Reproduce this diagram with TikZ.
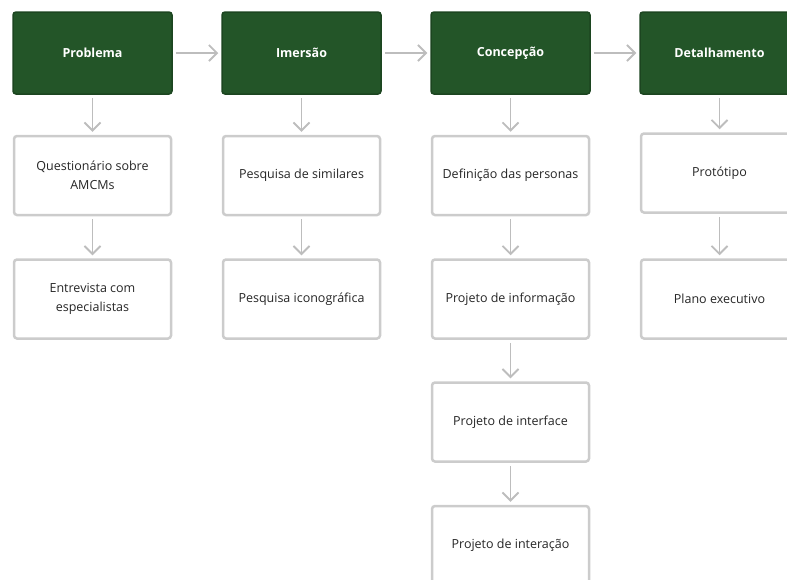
\documentclass[tikz,border=0pt]{standalone}
\usepackage{fontspec}
\setmainfont{Open Sans}
\usetikzlibrary{arrows.meta}
\definecolor{hdrfill}{HTML}{235528}
\definecolor{hdrline}{HTML}{1C4520}
\definecolor{boxline}{HTML}{CCCCCC}
\definecolor{arrowc}{HTML}{BDBDBD}
\definecolor{txtc}{HTML}{262626}
\tikzset{
  header/.style={draw=hdrline, fill=hdrfill, line width=1.5pt, rounded corners=3pt,
    minimum width=159pt, minimum height=82pt, inner sep=0pt, text=white,
    font=\fontsize{12.5}{15}\selectfont\bfseries, align=center},
  stepbox/.style={draw=boxline, fill=white, line width=2.5pt, rounded corners=3pt,
    minimum width=157pt, minimum height=79pt, inner sep=0pt, text=txtc,
    font=\fontsize{12.5}{19}\selectfont, align=center},
  conn/.style={draw=arrowc, line width=1.8pt, shorten <=3pt, shorten >=3pt,
    -{Straight Barb[length=8pt,width=16pt,line width=1.8pt]}}
}
\begin{document}
\begin{tikzpicture}[x=1pt,y=-1pt]
\useasboundingbox (0,0) rectangle (787,579);
% headers
\node[header] (h1) at (92.5,53) {Problema};
\node[header] (h2) at (301.5,53) {Imersão};
\node[header] (h3) at (510.5,53) {Concepção};
\node[header] (h4) at (719.5,53) {Detalhamento};
% column 1
\node[stepbox] (a1) at (92.5,175.5) {Questionário sobre\\AMCMs};
\node[stepbox] (a2) at (92.5,299) {Entrevista com\\especialistas};
% column 2
\node[stepbox] (b1) at (301.5,175.5) {Pesquisa de similares};
\node[stepbox] (b2) at (301.5,299) {Pesquisa iconográfica};
% column 3
\node[stepbox] (c1) at (510.5,175.5) {Definição das personas};
\node[stepbox] (c2) at (510.5,299) {Projeto de informação};
\node[stepbox] (c3) at (510.5,422) {Projeto de interface};
\node[stepbox] (c4) at (510.5,545.5) {Projeto de interação};
% column 4
\node[stepbox] (d1) at (719.5,173) {Protótipo};
\node[stepbox] (d2) at (719.5,299) {Plano executivo};
% horizontal connectors
\draw[conn] (h1) -- (h2);
\draw[conn] (h2) -- (h3);
\draw[conn] (h3) -- (h4);
% vertical connectors
\draw[conn] (h1) -- (a1);
\draw[conn] (a1) -- (a2);
\draw[conn] (h2) -- (b1);
\draw[conn] (b1) -- (b2);
\draw[conn] (h3) -- (c1);
\draw[conn] (c1) -- (c2);
\draw[conn] (c2) -- (c3);
\draw[conn] (c3) -- (c4);
\draw[conn] (h4) -- (d1);
\draw[conn] (d1) -- (d2);
\end{tikzpicture}
\end{document}
